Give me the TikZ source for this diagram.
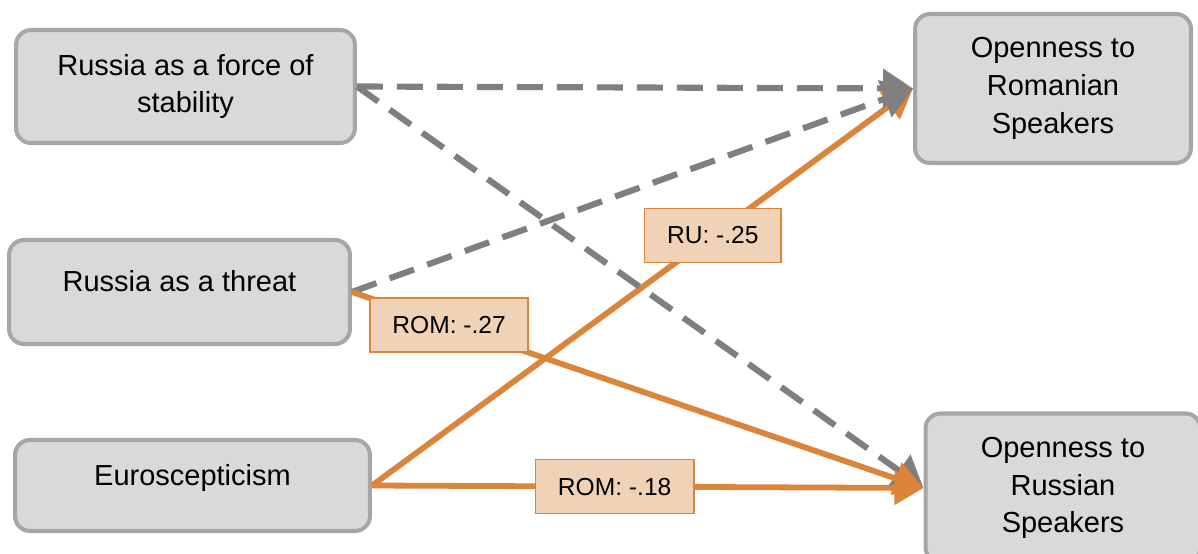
\documentclass[tikz,border=0pt]{standalone}
\usepackage{fontspec}
\setmainfont{Liberation Sans}
\usetikzlibrary{arrows.meta, positioning}
\definecolor{boxgray}{RGB}{217,217,217}
\definecolor{boxedge}{RGB}{166,166,166}
\definecolor{dashgray}{RGB}{127,127,127}
\definecolor{efforange}{RGB}{218,133,58}
\definecolor{efflight}{RGB}{240,211,182}

\begin{document}
\begin{tikzpicture}[x=0.02cm, y=-0.02cm,
		font=\fontsize{16.5}{21.5}\selectfont,
		box/.style={draw=boxedge, fill=boxgray, line width=2.3pt,
		            rounded corners=0.3cm, align=center},
		raised/.style={text height=0.45cm, text depth=0.45cm},
		coef/.style={draw=efforange, fill=efflight, line width=1pt, text=black,
		             font=\fontsize{14}{17}\selectfont,
		             minimum height=1.08cm, inner xsep=0.45cm},
		sig/.style={-{Triangle[length=0.58cm, width=0.66cm]}, line width=3.3pt, efforange},
		insig/.style={-{Triangle[length=0.6cm, width=0.76cm]}, line width=3.5pt, dashgray,
		              dash pattern=on 0.52cm off 0.28cm}]
		\path[use as bounding box, clip] (0,0) rectangle (1198,554);
		% predictors
		\node[box, minimum width=6.78cm, minimum height=2.26cm] (stab) at (185.5,86.5) {Russia as a force of\\stability};
		\node[box, raised, minimum width=6.82cm, minimum height=2.08cm] (threat) at (179.5,292) {Russia as a threat};
		\node[box, raised, minimum width=7.1cm, minimum height=1.82cm] (euro) at (192.5,485.5) {Euroscepticism};
		% outcomes
		\node[box, minimum width=5.52cm, minimum height=2.98cm] (rom) at (1053,88.5) {Openness to\\Romanian\\Speakers};
		\node[box, minimum width=5.5cm, minimum height=2.98cm] (rus) at (1063,488) {Openness to\\Russian\\Speakers};
		% paths
		\draw[sig] (euro.east) -- node[coef, pos=0.63] (ru25) {RU: -.25} (rom.west);
		\draw[insig] (stab.east) -- (rom.west);
		\draw[insig] (threat.east) -- (rom.west);
		\draw[insig] (stab.east) -- (rus.west);
		\draw[sig] (threat.east) -- node[coef, pos=0.17] (rom27) {ROM: -.27} (rus.west);
		\draw[sig] (euro.east) -- node[coef, pos=0.44] (rom18) {ROM: -.18} (rus.west);
	\end{tikzpicture}
\end{document}
